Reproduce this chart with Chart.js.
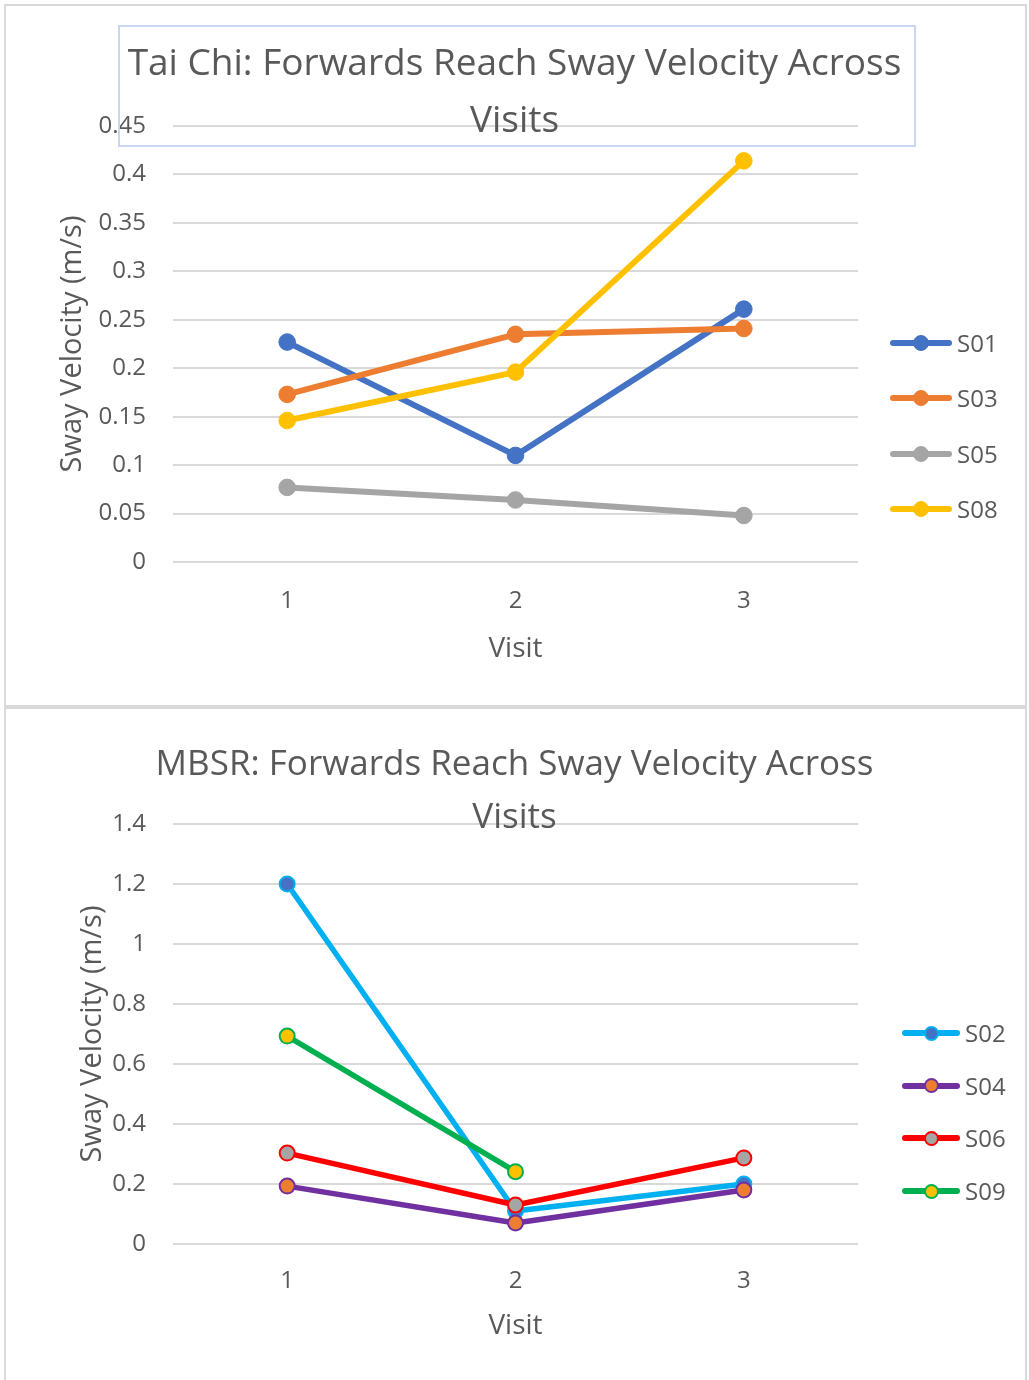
<!DOCTYPE html>
<html>
<head>
<meta charset="utf-8">
<script src="https://cdn.jsdelivr.net/npm/chart.js@4.4.1/dist/chart.umd.min.js"></script>
<style>
body{margin:0;background:#fff;width:1029px;height:1380px;overflow:hidden;position:relative;font-family:'Open Sans',sans-serif;color:#595959}
.panel{position:absolute;left:4px;width:1023px;border:2px solid #d9d9d9;box-sizing:border-box}
canvas{position:absolute;left:0}
.ttl{position:absolute;left:0;width:1029px;text-align:center;z-index:2;white-space:nowrap}
.tbox{position:absolute;left:118px;top:25px;width:798px;height:122px;border:2px solid #c9d6ee;box-sizing:border-box;z-index:2}
.lg{position:absolute;z-index:2}
.lg .it{position:absolute;left:0;height:0}
.lg .ln{position:absolute;left:0;top:-3px;height:6px;border-radius:3px}
.lg .mk{position:absolute;border-radius:50%;box-sizing:border-box}
.lg .tx{position:absolute;top:-17px;line-height:34px;font-size:24px;white-space:nowrap}
</style>
</head>
<body>
<div class="panel" style="top:4px;height:703px"></div>
<div class="panel" style="top:707px;height:700px"></div>

<div class="tbox"></div>
<div class="ttl" style="top:32px;line-height:57px;font-size:37px">Tai Chi: Forwards Reach Sway Velocity Across<br>Visits</div>
<div class="ttl" style="top:735px;line-height:53px;font-size:35px">MBSR: Forwards Reach Sway Velocity Across<br>Visits</div>

<canvas id="taiChart" width="1029" height="705" style="top:0"></canvas>
<canvas id="mbsrChart" width="1029" height="675" style="top:705px"></canvas>

<div class="lg" id="taiLegend" style="left:890px;top:343px"></div>
<div class="lg" id="mbsrLegend" style="left:902px;top:1033px"></div>

<script>
// visits on the x axis
var visits = ['1', '2', '3'];

// Tai Chi group, sway velocity (m/s)
var taiNames = ['S01', 'S03', 'S05', 'S08'];
var s01 = [0.227, 0.110, 0.261];
var s03 = [0.173, 0.235, 0.241];
var s05 = [0.077, 0.064, 0.048];
var s08 = [0.146, 0.196, 0.414];
var taiTicks = [0, 0.45, 0.05];

// MBSR group, sway velocity (m/s)
var mbsrNames = ['S02', 'S04', 'S06', 'S09'];
var s02 = [1.2, 0.11, 0.2];
var s04 = [0.193, 0.07, 0.18];
var s06 = [0.303, 0.13, 0.287];
var s09 = [0.693, 0.241, null];
var mbsrTicks = [0, 1.4, 0.2];

Chart.defaults.font.family = "'Open Sans', sans-serif";
Chart.defaults.color = '#595959';

function series(name, data, line, fill, bw, lw, r, n, i) {
  return {
    label: name, data: data, borderColor: line, backgroundColor: fill,
    pointBackgroundColor: fill, pointBorderColor: line, pointBorderWidth: bw,
    pointRadius: r, pointHoverRadius: r, borderWidth: lw,
    borderCapStyle: 'round', borderJoinStyle: 'round', spanGaps: false,
    order: n - i
  };
}

function opts(ticks, yTitlePad, pad) {
  return {
    responsive: false, animation: false,
    layout: {padding: {top: pad.top, right: 171, bottom: pad.bottom, left: 0}},
    plugins: {legend: {display: false}, tooltip: {enabled: false}},
    scales: {
      x: {
        offset: true, grid: {display: false}, border: {display: false},
        ticks: {font: {size: 24}, padding: pad.xtick},
        title: {display: true, text: 'Visit', font: {size: 28}, padding: {top: 0, bottom: pad.xtitle}},
        afterFit: function(s) { s.height = 110; }
      },
      y: {
        min: ticks[0], max: ticks[1],
        grid: {color: '#d9d9d9', lineWidth: 2, drawTicks: false}, border: {display: false},
        ticks: {stepSize: ticks[2], font: {size: 24}, padding: 27,
          callback: function(v) { return String(+v.toFixed(2)); }},
        title: {display: true, text: 'Sway Velocity (m/s)', font: {size: 29}, padding: {top: yTitlePad, bottom: 0}},
        afterFit: function(s) { s.width = 173; }
      }
    }
  };
}

function htmlLegend(id, chart, gap, w, r) {
  var box = document.getElementById(id);
  box.innerHTML = chart.data.datasets.map(function(d, i) {
    return '<div class="it" style="top:' + (i * gap) + 'px">' +
      '<div class="ln" style="width:' + w + 'px;background:' + d.borderColor + '"></div>' +
      '<div class="mk" style="left:' + (w / 2 - r) + 'px;top:' + (-r) + 'px;width:' + (2 * r) + 'px;height:' + (2 * r) + 'px;background:' + d.pointBackgroundColor + ';border:' + Math.max(d.pointBorderWidth, 1) + 'px solid ' + d.pointBorderColor + '"></div>' +
      '<span class="tx" style="left:' + (w + 5) + 'px">' + d.label + '</span></div>';
  }).join('');
}

var tai = new Chart(document.getElementById('taiChart'), {
  type: 'line',
  data: {labels: visits, datasets: [
    series(taiNames[0], s01, '#4472c4', '#4472c4', 1, 6, 8.3, 4, 0),
    series(taiNames[1], s03, '#ed7d31', '#ed7d31', 1, 6, 8.3, 4, 1),
    series(taiNames[2], s05, '#a5a5a5', '#a5a5a5', 1, 6, 8.3, 4, 2),
    series(taiNames[3], s08, '#ffc000', '#ffc000', 1, 6, 8.3, 4, 3)
  ]},
  options: opts(taiTicks, 55, {top: 126, bottom: 33, xtick: 17, xtitle: 6})
});

var mbsr = new Chart(document.getElementById('mbsrChart'), {
  type: 'line',
  data: {labels: visits, datasets: [
    series(mbsrNames[0], s02, '#00b0f0', '#4472c4', 2, 5.5, 7.5, 4, 0),
    series(mbsrNames[1], s04, '#7030a0', '#ed7d31', 2, 5.5, 7.5, 4, 1),
    series(mbsrNames[2], s06, '#ff0000', '#a5a5a5', 2, 5.5, 7.5, 4, 2),
    series(mbsrNames[3], s09, '#00b050', '#ffc000', 2, 5.5, 7.5, 4, 3)
  ]},
  options: opts(mbsrTicks, 75, {top: 119, bottom: 26, xtick: 15, xtitle: 11})
});

htmlLegend('taiLegend', tai, 55.3, 62, 8);
htmlLegend('mbsrLegend', mbsr, 52.7, 58, 7.5);
</script>
</body>
</html>
